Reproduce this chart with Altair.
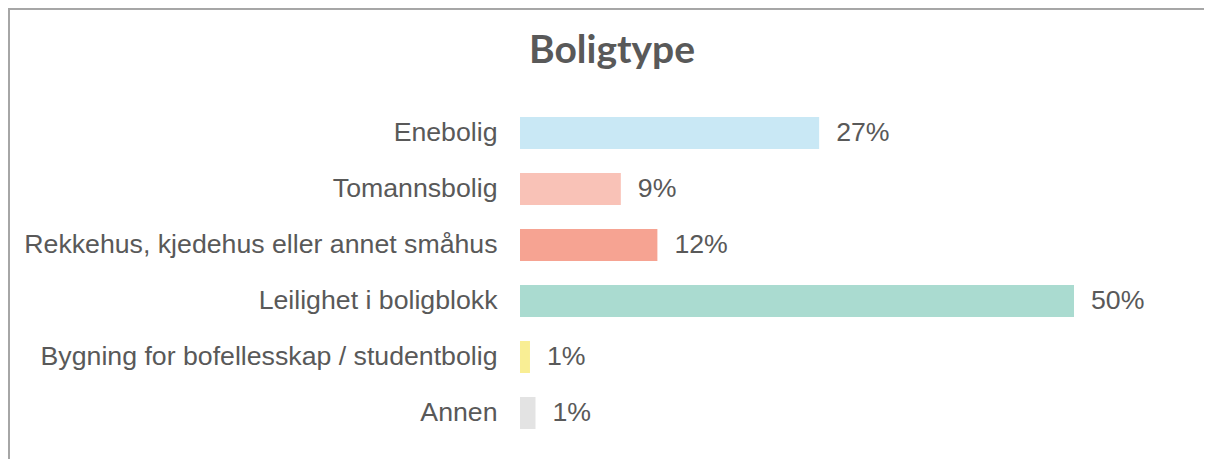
import altair as alt
import pandas as pd

title_text = "Boligtype"
categories = [
    "Enebolig",
    "Tomannsbolig",
    "Rekkehus, kjedehus eller annet småhus",
    "Leilighet i boligblokk",
    "Bygning for bofellesskap / studentbolig",
    "Annen",
]
values = [27.0, 9.1, 12.4, 50.0, 0.9, 1.4]
value_labels = ["27%", "9%", "12%", "50%", "1%", "1%"]
colors = ["#C9E8F5", "#F9C2B7", "#F6A392", "#AADBD0", "#F9EE94", "#E3E3E3"]

df = pd.DataFrame({"cat": categories, "val": values, "lab": value_labels})
tdf = pd.DataFrame({"t": [title_text]})

TXT = "#595959"
W, H = 554, 336
FS = 26.7

y_enc = alt.Y(
    "cat:N",
    sort=categories,
    scale=alt.Scale(paddingInner=0.4286, paddingOuter=0.2143),
    axis=alt.Axis(
        title=None, domain=False, ticks=False, labelFontSize=FS,
        labelFont="Liberation Sans", labelColor=TXT, labelPadding=23,
        labelLimit=700,
    ),
)
x_enc = alt.X("val:Q", scale=alt.Scale(domain=[0, 50], nice=False, zero=True), axis=None)

bars = alt.Chart(df).mark_bar().encode(
    x=x_enc,
    y=y_enc,
    color=alt.Color("cat:N", scale=alt.Scale(domain=categories, range=colors), legend=None),
)

texts = alt.Chart(df).mark_text(
    align="left", baseline="middle", dx=17, fontSize=FS,
    font="Liberation Sans", color=TXT,
).encode(x=x_enc, y=alt.Y("cat:N", sort=categories), text="lab:N")

title = alt.Chart(tdf).mark_text(
    align="center", baseline="alphabetic", fontSize=39, font="Lato",
    fontWeight="bold", color=TXT,
).encode(x=alt.value(92), y=alt.value(-42), text="t:N")

border_top = alt.Chart(df).mark_rule(color="#A6A6A6", strokeWidth=1.5).encode(
    x=alt.value(-512), x2=alt.value(W + 140), y=alt.value(-96.2)
)
border_left = alt.Chart(df).mark_rule(color="#A6A6A6", strokeWidth=1.5).encode(
    x=alt.value(-511.2), y=alt.value(-97), y2=alt.value(H + 30)
)

chart = alt.layer(bars, texts, title, border_top, border_left).properties(
    width=W,
    height=H,
    autosize=alt.AutoSizeParams(type="none"),
    padding={"left": 512, "top": 97, "right": 130, "bottom": 18},
    view=alt.ViewBackground(stroke="transparent", strokeWidth=0),
).configure_view(stroke="transparent", strokeWidth=0).configure(background="white")

chart.save("out.html", embed_options={"renderer": "svg", "actions": False})
